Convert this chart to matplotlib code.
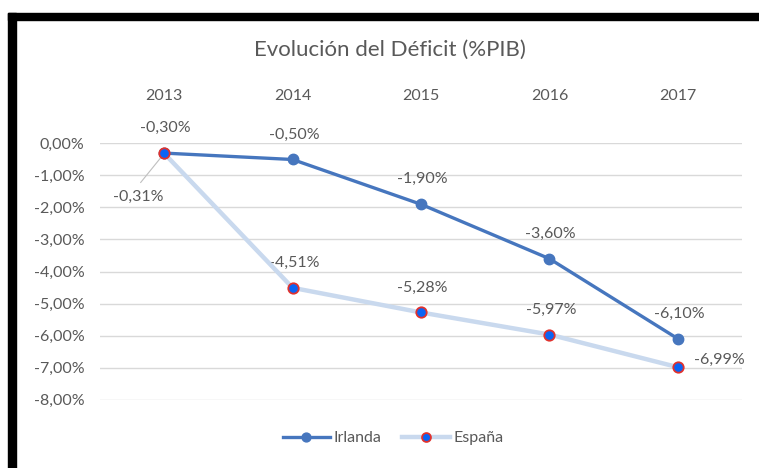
import matplotlib.pyplot as plt
from matplotlib.patches import Rectangle

years = ['2013', '2014', '2015', '2016', '2017']
irlanda = [-0.30, -0.50, -1.90, -3.60, -6.10]
espana = [-0.31, -4.51, -5.28, -5.97, -6.99]

plt.rcParams['font.family'] = ['Lato', 'DejaVu Sans']
txt_color = '#595959'
W, H = 759, 468
fs = 11.5

fig = plt.figure(figsize=(W / 100, H / 100), dpi=100)
ax = fig.add_axes([100 / W, 1 - 399.5 / H, 642 / W, 256 / H])

x = list(range(len(years)))
ax.plot(x, irlanda, color='#4676BE', lw=2.4, marker='o', ms=7.5,
        mfc='#4676BE', mec='#4676BE', label='Irlanda', zorder=3)
ax.plot(x, espana, color='#C9D9EE', lw=3.2, marker='o', ms=7.5,
        mfc='#0A64F5', mec='#E0322E', mew=1.3, label='España', zorder=4)

ax.set_xlim(-0.5, len(years) - 0.5)
ax.set_ylim(-8, 0)
yticks = [-8, -7, -6, -5, -4, -3, -2, -1, 0]
ax.set_yticks(yticks)
ax.set_yticklabels([('%.2f%%' % v).replace('.', ',') for v in yticks])
ax.set_xticks(x)
ax.set_xticklabels(years)
ax.xaxis.tick_top()
ax.tick_params(axis='both', length=0, colors=txt_color, labelsize=fs)
ax.tick_params(axis='x', pad=29)
ax.tick_params(axis='y', pad=11)
ax.grid(axis='y', color='#D9D9D9', lw=1)
ax.set_axisbelow(True)
for s in ax.spines.values():
    s.set_visible(False)


def fmt(v):
    return ('%.2f%%' % v).replace('.', ',')


for i, v in enumerate(irlanda):
    ax.annotate(fmt(v), (i, v), xytext=(1, 18), textcoords='offset points',
                ha='center', va='center', color=txt_color, fontsize=fs)

esp_offsets = [(-19, -31), (1, 18), (1, 18), (1, 18), (30, 5)]
for i, v in enumerate(espana):
    dx, dy = esp_offsets[i]
    ax.annotate(fmt(v), (i, v), xytext=(dx, dy), textcoords='offset points',
                ha='center', va='center', color=txt_color, fontsize=fs)
# leader line for the first label
ax.annotate('', (0, espana[0]), xytext=(-17, -21), textcoords='offset points',
            arrowprops=dict(arrowstyle='-', color='#BFBFBF', lw=0.8,
                            shrinkA=0, shrinkB=3))

fig.text(390 / W, 1 - 50 / H, 'Evolución del Déficit (%PIB)', ha='center',
         va='center', fontsize=16, color=txt_color)

leg = fig.legend(loc='center', bbox_to_anchor=(393 / W, 1 - 438 / H), ncol=2,
                 frameon=False, fontsize=fs, handlelength=3.0, markerscale=0.85,
                 columnspacing=1.3, handletextpad=0.2)
for t in leg.get_texts():
    t.set_color(txt_color)

# black frame on top and left
fig.patches.append(Rectangle((8 / W, 1 - 20 / H), 1, 7 / H, transform=fig.transFigure,
                             color='black', zorder=10))
fig.patches.append(Rectangle((8 / W, 0), 8 / W, 1 - 13 / H, transform=fig.transFigure,
                             color='black', zorder=10))

fig.savefig('out.png', dpi=100)
